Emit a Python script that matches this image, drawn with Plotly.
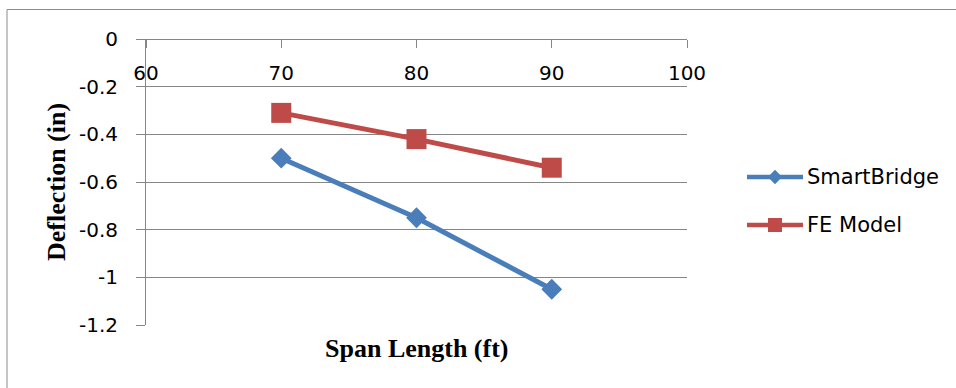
import plotly.graph_objects as go

# Span lengths (ft) and measured / modelled deflections (in)
span_ft = [70, 80, 90]
smartbridge_in = [-0.50, -0.75, -1.05]
fe_model_in = [-0.31, -0.42, -0.54]
series_names = ["SmartBridge", "FE Model"]

x_ticks = [60, 70, 80, 90, 100]
y_ticks = [0, -0.2, -0.4, -0.6, -0.8, -1, -1.2]
y_tick_text = ["0", "-0.2", "-0.4", "-0.6", "-0.8", "-1", "-1.2"]

W, H = 956, 388
BLUE = "#4A7EBB"
RED = "#BE4B48"
GRID = "#868686"
TICK_FONT = dict(family="DejaVu Sans", size=20, color="#000000")
TITLE_FONT = dict(family="Liberation Serif", size=26, color="#000000")

# plot area in pixels
px_left, px_right = 146, 687
px_top, px_bottom = 39, 325
xdom = [px_left / W, px_right / W]
ydom = [1 - px_bottom / H, 1 - px_top / H]

fig = go.Figure()

fig.add_trace(go.Scatter(
    x=span_ft, y=smartbridge_in, name=series_names[0], mode="lines+markers",
    line=dict(color=BLUE, width=5),
    marker=dict(symbol="diamond", size=16, color=BLUE),
    showlegend=False,
))
fig.add_trace(go.Scatter(
    x=span_ft, y=fe_model_in, name=series_names[1], mode="lines+markers",
    line=dict(color=RED, width=5),
    marker=dict(symbol="square", size=20, color=RED),
    showlegend=False,
))

# legend drawn on a pixel-scaled overlay axis pair
legend_rows = [(series_names[0], BLUE, "diamond", 11, 177),
               (series_names[1], RED, "square", 14, 225)]
for name, color, symbol, msize, ypix in legend_rows:
    fig.add_trace(go.Scatter(
        x=[747, 803], y=[ypix, ypix], mode="lines", xaxis="x2", yaxis="y2",
        line=dict(color=color, width=4.5), showlegend=False, hoverinfo="skip",
    ))
    fig.add_trace(go.Scatter(
        x=[775], y=[ypix], mode="markers", xaxis="x2", yaxis="y2",
        marker=dict(symbol=symbol, size=msize, color=color),
        showlegend=False, hoverinfo="skip",
    ))
    fig.add_annotation(
        x=805, y=ypix, xref="x2", yref="y2", text=name, showarrow=False,
        xanchor="left", yanchor="middle",
        font=dict(family="DejaVu Sans", size=21, color="#000000"),
    )

fig.update_layout(
    width=W, height=H,
    margin=dict(l=0, r=0, t=0, b=0, pad=0, autoexpand=False),
    paper_bgcolor="white", plot_bgcolor="rgba(0,0,0,0)",
    showlegend=False,
    xaxis=dict(
        domain=xdom, range=[60, 100], tickvals=x_ticks,
        anchor="free", position=ydom[1], side="bottom", automargin=False,
        showgrid=False, zeroline=False,
        showline=True, linecolor=GRID, linewidth=1,
        ticks="outside", ticklen=8, tickcolor=GRID,
        tickfont=TICK_FONT, ticklabelstandoff=8,
    ),
    yaxis=dict(
        domain=ydom, range=[-1.2, 0], tickvals=y_ticks, ticktext=y_tick_text,
        anchor="x", automargin=False,
        showgrid=True, gridcolor=GRID, gridwidth=1, zeroline=False,
        showline=True, linecolor=GRID, linewidth=1,
        ticks="outside", ticklen=9, tickcolor=GRID,
        tickfont=TICK_FONT, ticklabelstandoff=14,
    ),
    xaxis2=dict(domain=[0, 1], range=[0, W], visible=False, anchor="y2",
                automargin=False),
    yaxis2=dict(domain=[0, 1], range=[H, 0], visible=False, anchor="x2",
                automargin=False),
    shapes=[dict(type="rect", xref="paper", yref="paper",
                 x0=7 / W, x1=1.02, y0=-0.02, y1=1 - 9.5 / H,
                 line=dict(color="#8C8C8C", width=1), layer="below")],
)

fig.add_annotation(
    x=(px_left + px_right) / 2 / W, y=1 - 348 / H, xref="paper", yref="paper",
    text="<b>Span Length (ft)</b>", showarrow=False,
    xanchor="center", yanchor="middle", font=TITLE_FONT,
)
fig.add_annotation(
    x=56 / W, y=1 - 182 / H, xref="paper", yref="paper",
    text="<b>Deflection (in)</b>", showarrow=False, textangle=-90,
    xanchor="center", yanchor="middle", font=TITLE_FONT,
)

fig.write_html("out.html")
